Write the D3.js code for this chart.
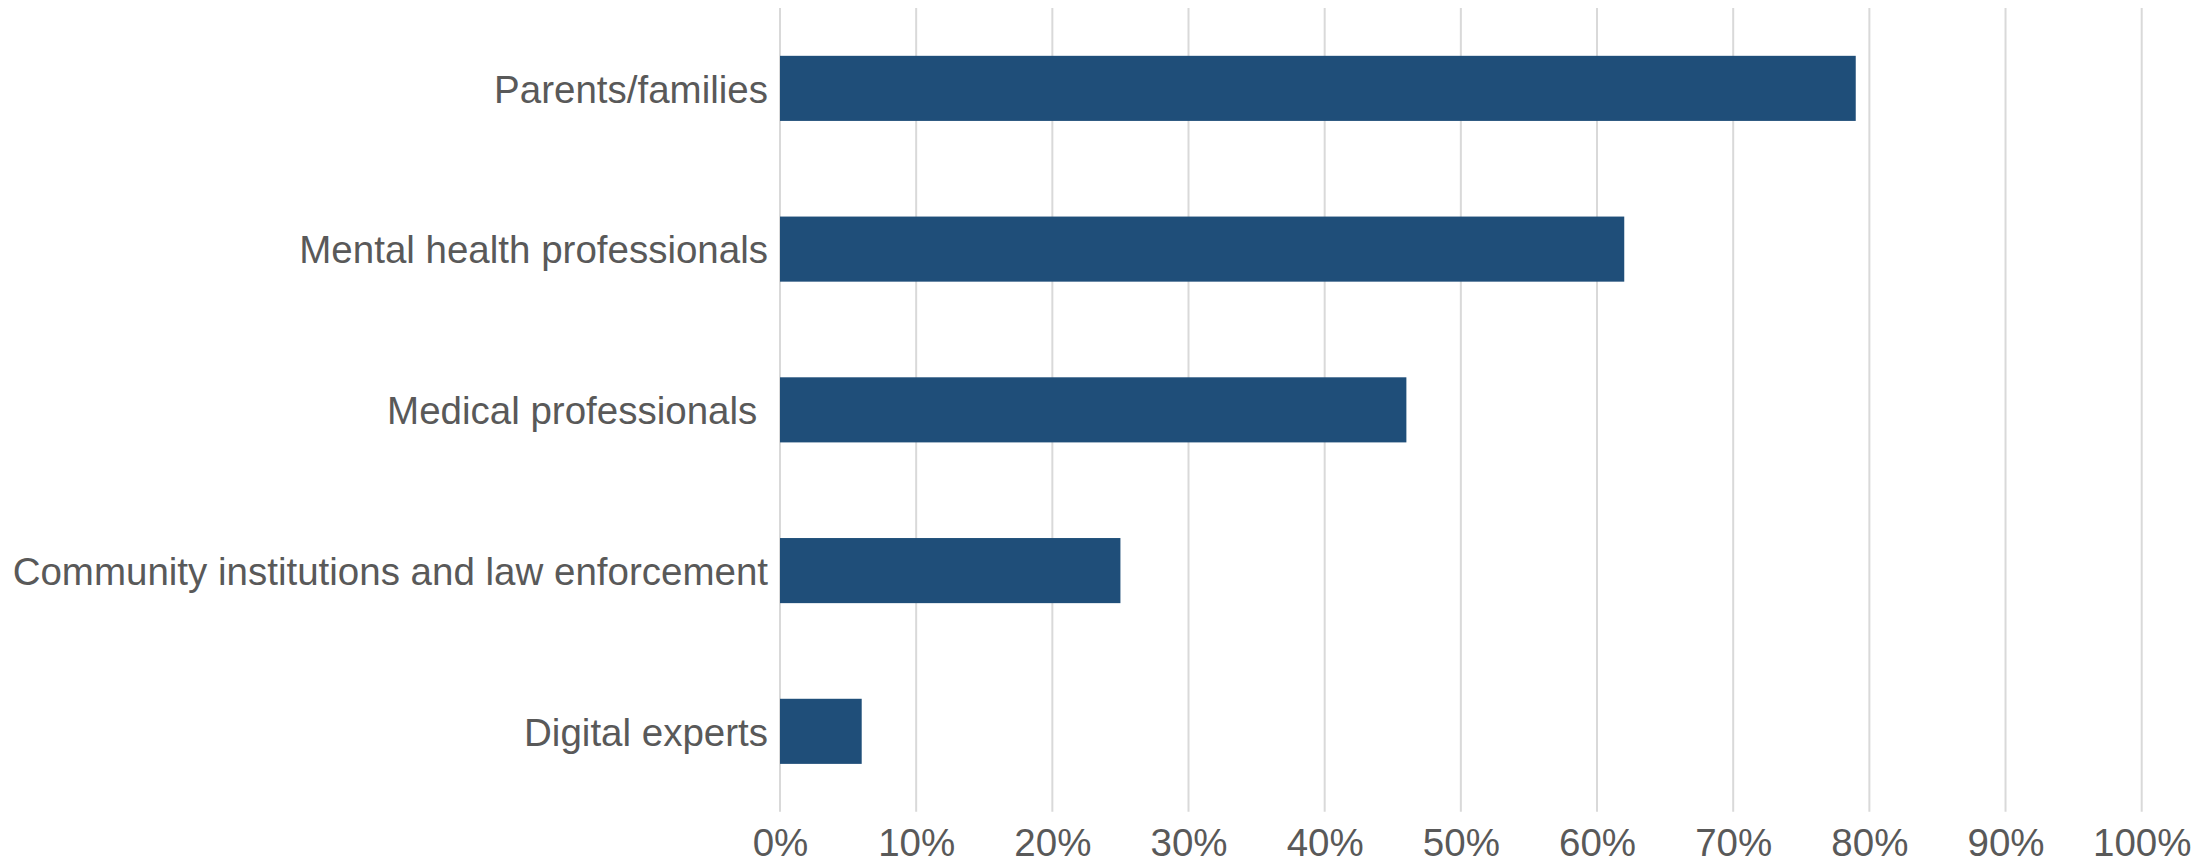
<!DOCTYPE html>
<html>
<head>
<meta charset="utf-8">
<script src="https://cdn.jsdelivr.net/npm/d3@7"></script>
<style>
  html, body { margin: 0; padding: 0; background: #fff; }
  svg { display: block; }
  text { font-family: "Liberation Sans", Arial, sans-serif; fill: #595959; white-space: pre; }
</style>
</head>
<body>
<svg id="chart" width="2211" height="859"></svg>
<script>
const categories = [
  "Parents/families",
  "Mental health professionals",
  "Medical professionals ",
  "Community institutions and law enforcement",
  "Digital experts"
];
const values = [0.79, 0.62, 0.46, 0.25, 0.06];
const tickValues = [0, 0.1, 0.2, 0.3, 0.4, 0.5, 0.6, 0.7, 0.8, 0.9, 1.0];

(function () {
  const svg = d3.select("#chart");
  const plotLeft = 780, plotRight = 2141.7, plotTop = 8, plotBottom = 811.7;

  const x = d3.scaleLinear().domain([0, 1]).range([plotLeft, plotRight]);
  const y = d3.scaleBand().domain(categories).range([plotTop, plotBottom])
    .paddingInner(0.595).paddingOuter(0.2975);

  // gridlines
  svg.append("g").selectAll("line").data(tickValues).join("line")
    .attr("x1", d => x(d)).attr("x2", d => x(d))
    .attr("y1", plotTop).attr("y2", plotBottom)
    .attr("stroke", "#d9d9d9").attr("stroke-width", 2);

  // bars
  svg.append("g").selectAll("rect").data(values).join("rect")
    .attr("x", x(0))
    .attr("y", (d, i) => y(categories[i]))
    .attr("width", d => x(d) - x(0))
    .attr("height", y.bandwidth())
    .attr("fill", "#1f4e79");

  // x axis
  const xAxis = d3.axisBottom(x).tickValues(tickValues)
    .tickFormat(d3.format(".0%")).tickSize(0).tickPadding(0);
  const gx = svg.append("g").attr("transform", `translate(0,${plotBottom})`).call(xAxis);
  gx.select(".domain").remove();
  gx.selectAll("text")
    .attr("y", 44).attr("dy", 0)
    .style("font-size", "38.5px")
    .style("font-family", '"Liberation Sans", Arial, sans-serif')
    .attr("fill", "#595959");

  // y axis
  const yAxis = d3.axisLeft(y).tickSize(0).tickPadding(12);
  const gy = svg.append("g").attr("transform", `translate(${plotLeft},0)`).call(yAxis);
  gy.select(".domain").remove();
  gy.selectAll("text")
    .attr("dy", "0.37em")
    .attr("xml:space", "preserve")
    .style("white-space", "pre")
    .style("font-size", "38.5px")
    .style("font-family", '"Liberation Sans", Arial, sans-serif')
    .attr("fill", "#595959");
})();
</script>
</body>
</html>
